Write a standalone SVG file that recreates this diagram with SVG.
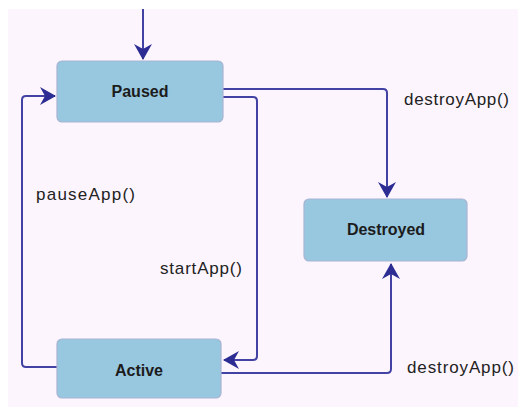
<svg xmlns="http://www.w3.org/2000/svg" width="518" height="407" viewBox="0 0 518 407">
  <style>
    .node rect { fill: #98c7e0; stroke: #a7b4d2; stroke-width: 1.2; }
    .node text { font-family: "Liberation Sans", Arial, sans-serif; font-size: 16px; font-weight: bold; fill: #1c1c1c; text-anchor: middle; }
    .edge { fill: none; stroke: #4242a4; stroke-width: 2; }
    .label { font-family: "Liberation Sans", Arial, sans-serif; font-size: 17px; fill: #222; }
  </style>
  <defs>
    <marker id="arrow" markerUnits="userSpaceOnUse" markerWidth="16" markerHeight="18" refX="15" refY="9" orient="auto" viewBox="0 0 16 18">
      <path d="M0,0 L16,9 L0,18 L5,9 Z" fill="#2c2c92"/>
    </marker>
  </defs>

  <!-- canvas -->
  <rect x="0" y="0" width="518" height="407" fill="#ffffff"/>
  <rect x="8" y="9" width="510" height="398" fill="#fcf5fd"/>

  <!-- transitions -->
  <g id="connectors">
    <path class="edge" d="M143,9 V59" marker-end="url(#arrow)"/>
    <path class="edge" d="M223,89 H383 Q387,89 387,93 V197" marker-end="url(#arrow)"/>
    <path class="edge" d="M223,97 H253 Q257,97 257,101 V356 Q257,360 253,360 H224" marker-end="url(#arrow)"/>
    <path class="edge" d="M57,367 H26 Q22,367 22,363 V100 Q22,96 26,96 H55" marker-end="url(#arrow)"/>
    <path class="edge" d="M221,373 H387 Q391,373 391,369 V264" marker-end="url(#arrow)"/>
    <text class="label" x="404" y="105" textLength="105" lengthAdjust="spacing">destroyApp()</text>
    <text class="label" x="36" y="200" textLength="99" lengthAdjust="spacing">pauseApp()</text>
    <text class="label" x="160" y="274" textLength="82" lengthAdjust="spacing">startApp()</text>
    <text class="label" x="407" y="373" textLength="107" lengthAdjust="spacing">destroyApp()</text>
  </g>

  <!-- states -->
  <g id="paused" class="node">
    <rect x="57" y="61" width="166" height="61" rx="5"/>
    <text x="140" y="97">Paused</text>
  </g>
  <g id="destroyed" class="node">
    <rect x="304" y="199" width="163" height="62" rx="5"/>
    <text x="386" y="235">Destroyed</text>
  </g>
  <g id="active" class="node">
    <rect x="57" y="339" width="164" height="59" rx="5"/>
    <text x="139" y="376">Active</text>
  </g>
</svg>
